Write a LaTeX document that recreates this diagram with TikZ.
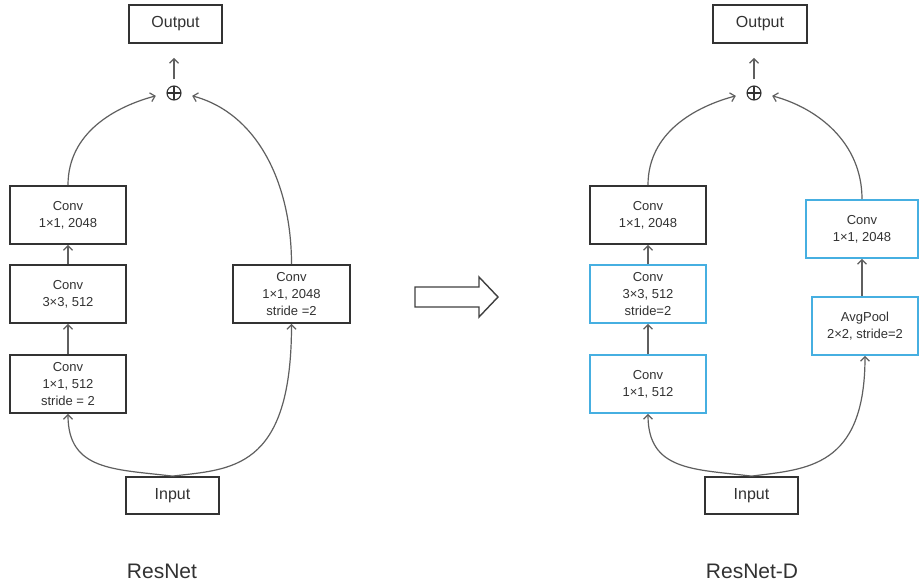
\documentclass[tikz,border=0pt]{standalone}
\usepackage{fontspec}
\setmainfont{Liberation Sans}
\usetikzlibrary{arrows.meta}
\definecolor{boxblue}{RGB}{70,175,225}
\definecolor{linegray}{RGB}{95,95,95}
\definecolor{txtgray}{RGB}{50,50,50}
\tikzset{
  blk/.style={draw=black!80, line width=1.8pt, rectangle, inner sep=0pt, align=center,
    text=txtgray, font=\fontsize{13}{17}\selectfont},
  blu/.style={blk, draw=boxblue, line width=1.7pt},
  io/.style={blk, font=\fontsize{16}{18}\selectfont},
  arr/.style={draw=linegray, line width=1.2pt, -{Straight Barb[length=4.5pt,width=9pt]}},
  oplus/.style={circle, draw=black!80, line width=1.1pt, minimum size=14pt, inner sep=0pt,
    path picture={\draw[black!80, line width=1.1pt] (path picture bounding box.north) -- (path picture bounding box.south)
      (path picture bounding box.west) -- (path picture bounding box.east);}},
  lbl/.style={font=\fontsize{21}{24}\selectfont, text=txtgray},
}
\begin{document}
\begin{tikzpicture}[x=1pt,y=-1pt]
\useasboundingbox[fill=white] (0,0) rectangle (920,587);

% ---------- ResNet ----------
\node[io, minimum width=93pt, minimum height=38pt] (outL) at (175.5,24) {Output};
\node[oplus] (plusL) at (174,93) {};
\node[blk, minimum width=116pt, minimum height=58pt] (c3L) at (68,215) {Conv\\1×1, 2048};
\node[blk, minimum width=116pt, minimum height=58pt] (c2L) at (68,294) {Conv\\3×3, 512};
\node[blk, minimum width=116pt, minimum height=58pt] (c1L) at (68,384) {Conv\\1×1, 512\\stride = 2};
\node[blk, minimum width=117pt, minimum height=58pt] (scL) at (291.5,294) {Conv\\1×1, 2048\\stride =2};
\node[io, minimum width=93pt, minimum height=37pt] (inL) at (172.5,495.5) {Input};
\node[lbl] (labL) at (162,571) {ResNet};

\draw[arr, shorten <=6pt, shorten >=14pt] (plusL) -- (plusL |- outL.south);
\draw[arr] (c1L.north) -- (c2L.south);
\draw[arr] (c2L.north) -- (c3L.south);
\draw[arr, shorten >=11pt] (c3L.north) to[out=90, in=195] (plusL.west);
\draw[arr, shorten >=11pt] (scL.north) to[out=90, in=-15] (plusL.east);
\draw[arr] (inL.north) .. controls +(-58,-7) and +(0,57) .. (c1L.south);
\draw[arr] (inL.north) .. controls +(58,-7) and +(0,147) .. (scL.south);

% ---------- big arrow ----------
\draw[black!75, line width=1.4pt, line join=miter] (415,287) -- (479,287) -- (479,277) -- (498,297)
  -- (479,317) -- (479,307) -- (415,307) -- cycle;

% ---------- ResNet-D ----------
\node[io, minimum width=94pt, minimum height=38pt] (outR) at (760,24) {Output};
\node[oplus] (plusR) at (754,93) {};
\node[blk, minimum width=116pt, minimum height=58pt] (c3R) at (648,215) {Conv\\1×1, 2048};
\node[blu, minimum width=116pt, minimum height=58pt] (c2R) at (648,294) {Conv\\3×3, 512\\stride=2};
\node[blu, minimum width=116pt, minimum height=58pt] (c1R) at (648,384) {Conv\\1×1, 512};
\node[blu, minimum width=112pt, minimum height=58pt] (scR) at (862,229) {Conv\\1×1, 2048};
\node[blu, minimum width=106pt, minimum height=58pt] (apR) at (865,326) {AvgPool\\2×2, stride=2};
\node[io, minimum width=93pt, minimum height=37pt] (inR) at (751.5,495.5) {Input};
\node[lbl] (labR) at (752,571) {ResNet-D};

\draw[arr, shorten <=6pt, shorten >=14pt] (plusR) -- (plusR |- outR.south);
\draw[arr] (c1R.north) -- (c2R.south);
\draw[arr] (c2R.north) -- (c3R.south);
\draw[arr] (apR.north -| scR.south) -- (scR.south);
\draw[arr, shorten >=11pt] (c3R.north) to[out=90, in=195] (plusR.west);
\draw[arr, shorten >=11pt] (scR.north) to[out=90, in=-15] (plusR.east);
\draw[arr] (inR.north) .. controls +(-58,-7) and +(0,57) .. (c1R.south);
\draw[arr] (inR.north) .. controls +(55,-7) and +(0,112) .. (apR.south);
\end{tikzpicture}
\end{document}
